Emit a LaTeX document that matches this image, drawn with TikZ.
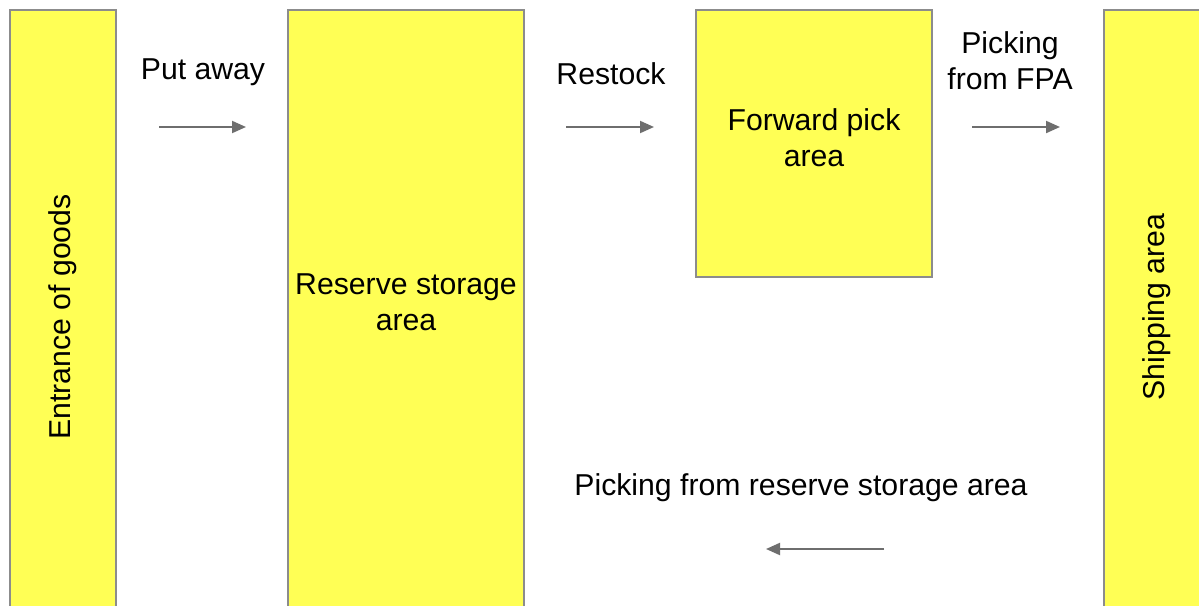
\documentclass[tikz,border=0pt]{standalone}
\usepackage{fontspec}
\setmainfont{Liberation Sans}
\usetikzlibrary{arrows.meta}
\definecolor{zoneyellow}{HTML}{FFFF55}
\definecolor{zoneedge}{HTML}{8C8C8C}
\definecolor{flowgray}{HTML}{6E6E6E}
\tikzset{
  zone/.style={fill=zoneyellow, draw=zoneedge, line width=2pt},
  lbl/.style={font=\fontsize{30.2}{36}\selectfont, align=center, text=black, inner sep=0pt},
  flow/.style={draw=flowgray, line width=2pt, -{Triangle[length=14pt,width=12pt]}}
}
\begin{document}
\begin{tikzpicture}[x=1pt,y=-1pt]
  \useasboundingbox (0,0) rectangle (1199,605);
  \clip (0,0) rectangle (1199,605);
  \fill[white] (0,0) rectangle (1199,605);

  % warehouse zones
  \draw[zone] (10,10) rectangle (116,640);
  \draw[zone] (288,10) rectangle (524,640);
  \draw[zone] (696,10) rectangle (932,277);
  \draw[zone] (1104,10) rectangle (1240,640);

  % zone names
  \node[lbl, rotate=90] (entrance) at (63,317) {Entrance of goods};
  \node[lbl] (reserve) at (406,302) {Reserve storage\\area};
  \node[lbl] (fpa) at (814,138) {Forward pick\\area};
  \node[lbl, rotate=90] (shipping) at (1157,307) {Shipping area};

  % flow labels
  \node[lbl] (putaway) at (203,72) {Put away};
  \node[lbl] (restock) at (611,74) {Restock};
  \node[lbl] (pickfpa) at (1010,61) {Picking\\from FPA};
  \node[lbl] (pickres) at (801,488) {Picking from reserve storage area};

  % flow arrows
  \coordinate (a1s) at (159,127); \coordinate (a1e) at (246,127);
  \coordinate (a2s) at (566,127); \coordinate (a2e) at (654,127);
  \coordinate (a3s) at (972,127); \coordinate (a3e) at (1060,127);
  \coordinate (a4s) at (884,549); \coordinate (a4e) at (766,549);
  \draw[flow] (a1s) -- (a1e);
  \draw[flow] (a2s) -- (a2e);
  \draw[flow] (a3s) -- (a3e);
  \draw[flow] (a4s) -- (a4e);
\end{tikzpicture}
\end{document}
